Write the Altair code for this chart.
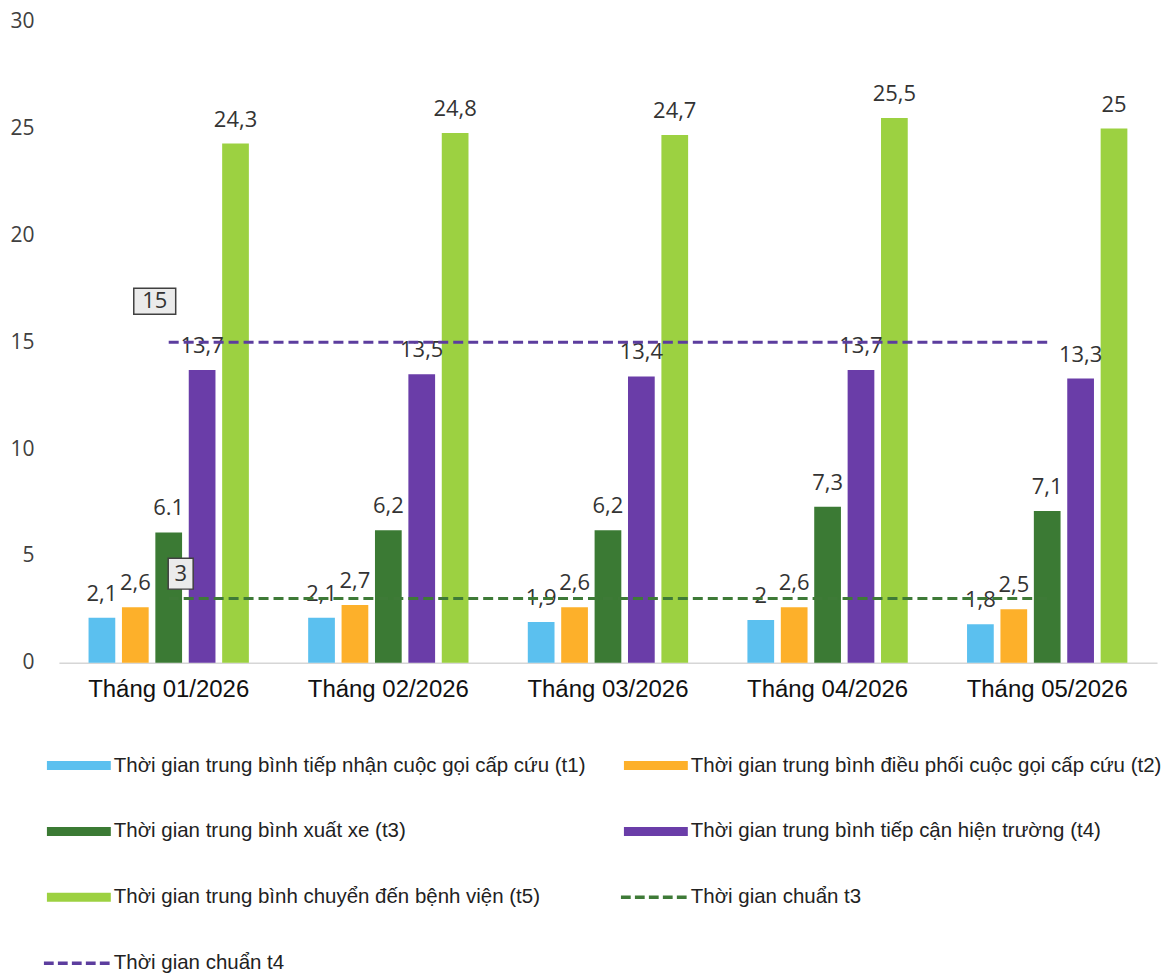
import altair as alt
import pandas as pd

months = ["Tháng 01/2026", "Tháng 02/2026", "Tháng 03/2026", "Tháng 04/2026", "Tháng 05/2026"]
series = [
    "Thời gian trung bình tiếp nhận cuộc gọi cấp cứu (t1)",
    "Thời gian trung bình điều phối cuộc gọi cấp cứu (t2)",
    "Thời gian trung bình xuất xe (t3)",
    "Thời gian trung bình tiếp cận hiện trường (t4)",
    "Thời gian trung bình chuyển đến bệnh viện (t5)",
]
t1 = [2.1, 2.1, 1.9, 2.0, 1.8]
t2 = [2.6, 2.7, 2.6, 2.6, 2.5]
t3 = [6.1, 6.2, 6.2, 7.3, 7.1]
t4 = [13.7, 13.5, 13.4, 13.7, 13.3]
t5 = [24.3, 24.8, 24.7, 25.5, 25.0]
t1_labels = ["2,1", "2,1", "1,9", "2", "1,8"]
t2_labels = ["2,6", "2,7", "2,6", "2,6", "2,5"]
t3_labels = ["6.1", "6,2", "6,2", "7,3", "7,1"]
t4_labels = ["13,7", "13,5", "13,4", "13,7", "13,3"]
t5_labels = ["24,3", "24,8", "24,7", "25,5", "25"]

std_names = ["Thời gian chuẩn t3", "Thời gian chuẩn t4"]
std_t3 = [3, 3, 3, 3, 3]
std_t4 = [15, 15, 15, 15, 15]

y_ticks = [0, 5, 10, 15, 20, 25, 30]

bar_colors = ["#5BC0EF", "#FDB02A", "#3B7A34", "#6A3DA8", "#9CD141"]
line_colors = ["#3E7A37", "#5C3D9E"]

# ---------- tables ----------
vals = [t1, t2, t3, t4, t5]
labs = [t1_labels, t2_labels, t3_labels, t4_labels, t5_labels]
rows = []
for s, v, l in zip(series, vals, labs):
    for m, vv, ll in zip(months, v, l):
        rows.append({"month": m, "series": s, "value": vv, "label": ll})
bars_df = pd.DataFrame(rows)

line_rows = []
for s, v in zip(std_names, [std_t3, std_t4]):
    for m, vv in zip(months, v):
        line_rows.append({"month": m, "std": s, "value": vv})
lines_df = pd.DataFrame(line_rows)

LABEL_FONT = "Open Sans"
AXIS_FONT = "Liberation Sans"

x_enc = alt.X("month:N", sort=months,
              scale=alt.Scale(paddingInner=0.27, paddingOuter=0.135),
              axis=alt.Axis(title=None, labelAngle=0, ticks=False, domain=True,
                            domainColor="#d6d6d6", domainWidth=1.5,
                            labelFont=AXIS_FONT, labelFontSize=24,
                            labelColor="#111", labelPadding=15))
y_enc = alt.Y("value:Q", scale=alt.Scale(domain=[0, 30], nice=False),
              axis=alt.Axis(title=None, values=y_ticks, grid=False, domain=False,
                            ticks=False, labelFont=LABEL_FONT, labelFontSize=21,
                            labelColor="#404040", labelPadding=25))
xoff = alt.XOffset("series:N", sort=series, scale=alt.Scale(paddingInner=0.2))
color = alt.Color("series:N", sort=series,
                  scale=alt.Scale(domain=series, range=bar_colors), legend=None)

base = alt.Chart(bars_df)
bars = base.mark_bar().encode(x=x_enc, y=y_enc, xOffset=xoff, color=color)
bar_text = base.mark_text(baseline="bottom", dy=-12, font=LABEL_FONT,
                          fontSize=22, color="#333").encode(
    x=alt.X("month:N", sort=months), y="value:Q", xOffset=xoff, text="label:N")

lbase = alt.Chart(lines_df)
line_t3 = lbase.transform_filter(alt.datum.std == std_names[0]).mark_line(
    color=line_colors[0], strokeDash=[10, 5], strokeWidth=3).encode(
    x=alt.X("month:N", sort=months), y="value:Q")
line_t4 = lbase.transform_filter(alt.datum.std == std_names[1]).mark_line(
    color=line_colors[1], strokeDash=[10, 5], strokeWidth=3).encode(
    x=alt.X("month:N", sort=months), y="value:Q")

first = lbase.transform_filter(alt.datum.month == months[0])
box15 = first.transform_filter(alt.datum.std == std_names[1]).mark_point(
    shape="M-1,-0.62H1V0.62H-1Z", size=1764, filled=True, fill="#ebebeb",
    stroke="#404040", strokeWidth=1.5, opacity=1, xOffset=-14, yOffset=-41).encode(
    x=alt.X("month:N", sort=months), y="value:Q")
txt15 = first.transform_filter(alt.datum.std == std_names[1]).mark_text(
    font=LABEL_FONT, fontSize=22, color="#333", xOffset=-14, yOffset=-41).encode(
    x=alt.X("month:N", sort=months), y="value:Q", text=alt.Text("value:Q", format=".0f"))
box3 = first.transform_filter(alt.datum.std == std_names[0]).mark_point(
    shape="M-1,-1.24H1V1.24H-1Z", size=625, filled=True, fill="#ebebeb",
    stroke="#404040", strokeWidth=1.5, opacity=1, xOffset=12, yOffset=-25).encode(
    x=alt.X("month:N", sort=months), y="value:Q")
txt3 = first.transform_filter(alt.datum.std == std_names[0]).mark_text(
    font=LABEL_FONT, fontSize=22, color="#333", xOffset=12, yOffset=-25).encode(
    x=alt.X("month:N", sort=months), y="value:Q", text=alt.Text("value:Q", format=".0f"))

main = alt.layer(bars, bar_text, line_t3, line_t4, box15, txt15, box3, txt3).properties(
    width=1100, height=642)

# ---------- legend ----------
leg_names = series + std_names
leg_colors = bar_colors + line_colors
leg_kind = ["bar"] * 5 + ["dash"] * 2
leg_df = pd.DataFrame({
    "name": leg_names,
    "col": [i % 2 for i in range(len(leg_names))],
    "row": [i // 2 for i in range(len(leg_names))],
    "kind": leg_kind,
})
lx = alt.X("col:Q", scale=alt.Scale(domain=[0, 1], range=[20, 598]), axis=None)
ly = alt.Y("row:Q", scale=alt.Scale(domain=[0, 3], range=[0, 198]), axis=None)
lcolor = alt.Color("name:N", scale=alt.Scale(domain=leg_names, range=leg_colors), legend=None)
lb = alt.Chart(leg_df)
dash_path = " ".join(
    f"M{a},-0.05H{a + 0.28}V0.05H{a}Z" for a in [-1.0, -0.6, -0.2, 0.2, 0.6])
leg_rect = lb.transform_filter(alt.datum.kind == "bar").mark_point(
    shape="M-1,-0.14H1V0.14H-1Z", size=4096, filled=True, opacity=1).encode(
    x=lx, y=ly, color=lcolor)
leg_dash = lb.transform_filter(alt.datum.kind == "dash").mark_point(
    shape=dash_path, size=4900, filled=True, opacity=1).encode(
    x=lx, y=ly, color=lcolor)
leg_text = lb.mark_text(align="left", dx=35, font=AXIS_FONT, fontSize=20.5,
                        color="#222").encode(x=lx, y=ly, text="name:N")
legend = alt.layer(leg_rect, leg_dash, leg_text).properties(width=1100, height=198)

chart = alt.vconcat(main, legend, spacing=54).resolve_scale(
    color="independent", x="independent", y="independent"
).properties(
    padding={"top": 10, "left": 9, "right": 5, "bottom": 0},
    background="white",
).configure_view(stroke=None)

chart.save("out.html", embed_options={"renderer": "svg", "actions": False})
